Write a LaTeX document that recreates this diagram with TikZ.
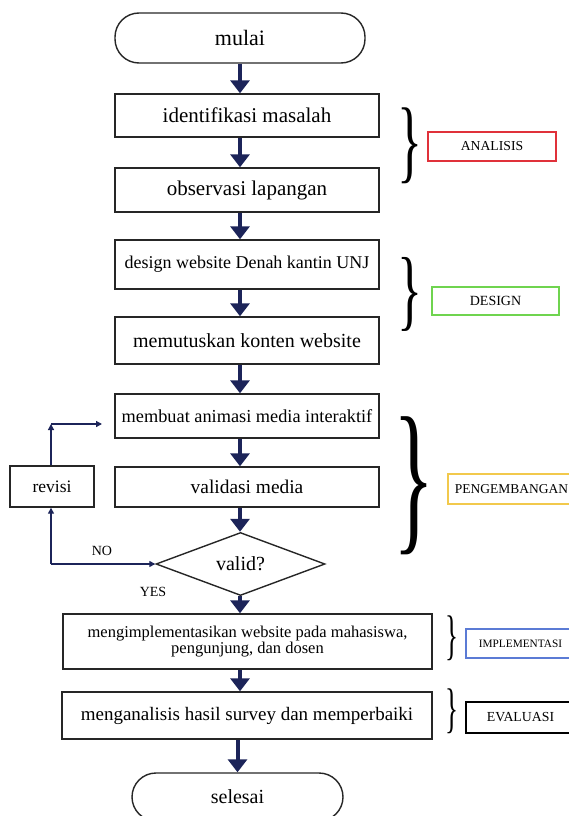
\documentclass[tikz,border=0pt]{standalone}
\usepackage{fontspec}
\setmainfont{Liberation Serif}
\usepackage{graphicx}
\usetikzlibrary{arrows.meta,shapes.geometric}
\definecolor{navy}{HTML}{1C2459}
\definecolor{redb}{HTML}{E0313A}
\definecolor{greenb}{HTML}{6FD44F}
\definecolor{yellowb}{HTML}{F2C94C}
\definecolor{blueb}{HTML}{5B7BD5}
\newcommand{\fsz}[1]{\fontsize{#1}{#1}\selectfont}
\begin{document}
\begin{tikzpicture}[x=1pt,y=-1pt,
  box/.style={draw=black!85, line width=1.4pt, inner sep=0pt, align=center},
  term/.style={box, rounded corners=24pt},
  mainarr/.style={navy, line width=4pt, -{Triangle[width=19pt,length=13pt]}},
  thinarr/.style={navy, line width=1.3pt, -{Triangle[width=6pt,length=6pt]}},
  tag/.style={draw, line width=1.5pt, inner sep=0pt},
  brc/.style={inner sep=0pt},
  lbl/.style={inner sep=0pt, font=\fsz{14}}
]
\useasboundingbox (0,0) rectangle (569,816);

% main flow
\node[term, minimum width=250pt, minimum height=50pt, font=\fsz{22}] (start) at (240,38) {mulai};
\node[box, minimum width=264pt, minimum height=43pt, font=\fsz{21}] (b1) at (247,115.5) {identifikasi masalah};
\node[box, minimum width=264pt, minimum height=44pt, font=\fsz{21}] (b2) at (247,190) {observasi lapangan};
\node[box, minimum width=264pt, minimum height=49pt, font=\fsz{18}] (b3) at (247,264.5) {design website Denah kantin UNJ};
\node[box, minimum width=264pt, minimum height=47pt, font=\fsz{20}] (b4) at (247,340.5) {memutuskan konten website};
\node[box, minimum width=264pt, minimum height=44pt, font=\fsz{18.3}] (b5) at (247,416) {membuat animasi media interaktif};
\node[box, minimum width=264pt, minimum height=40pt, font=\fsz{19.4}] (b6) at (247,487) {validasi media};
\node[box, minimum width=84pt, minimum height=41pt, font=\fsz{17.5}] (rev) at (52,486.5) {revisi};
\node[box, diamond, minimum width=169pt, minimum height=60pt, font=\fsz{20}] (dia) at (240.5,564) {valid?};
\node[box, minimum width=369pt, minimum height=55pt, font=\fsz{16.5}] (b7) at (247.5,641.5) {mengimplementasikan website pada mahasiswa,\\pengunjung, dan dosen};
\node[box, minimum width=370pt, minimum height=47pt, font=\fsz{19}] (b8) at (247,715.5) {menganalisis hasil survey dan memperbaiki};
\node[term, minimum width=211pt, minimum height=48pt, font=\fsz{20}] (end) at (237.5,797) {selesai};

% main arrows
\coordinate (col) at (240,0);
\draw[mainarr] (start.south) -- (start.south |- b1.north);
\draw[mainarr] (b1.south -| col) -- (b2.north -| col);
\draw[mainarr] (b2.south -| col) -- (b3.north -| col);
\draw[mainarr] (b3.south -| col) -- (b4.north -| col);
\draw[mainarr] (b4.south -| col) -- (b5.north -| col);
\draw[mainarr] (b5.south -| col) -- (b6.north -| col);
\draw[mainarr] (b6.south -| col) -- (dia.north -| col);
\draw[mainarr] (dia.south -| col) -- (b7.north -| col);
\draw[mainarr] (b7.south -| col) -- (b8.north -| col);
\draw[mainarr] (b8.south -| end) -- (end.north);

% revision loop
\coordinate (cNO) at (51,564);
\coordinate (cTop) at (51,424);
\coordinate (cTip) at (102,424);
\draw[thinarr] (cNO) -- (cNO |- rev.south);
\draw[thinarr] (cNO) -- (dia.west);
\draw[thinarr] (cNO |- rev.north) -- (cTop);
\draw[thinarr] (cTop) -- (cTip);
\node[lbl] (no) at (102,551) {NO};
\node[lbl] (yes) at (153,592) {YES};

% braces
\node[brc] (brA) at (409.5,146) {\resizebox*{25pt}{76pt}{\}}};
\node[brc] (brD) at (409.5,294) {\resizebox*{25pt}{74pt}{\}}};
\node[brc] (brP) at (414.5,486) {\resizebox*{41pt}{138pt}{\}}};
\node[brc] (brI) at (451.5,638.5) {\resizebox*{13pt}{45pt}{\}}};
\node[brc] (brE) at (451.5,711.5) {\resizebox*{13pt}{45pt}{\}}};

% phase tags
\node[tag, draw=redb, minimum width=128pt, minimum height=29pt, font=\fsz{13.7}] (tA) at (492,146.5) {ANALISIS};
\node[tag, draw=greenb, minimum width=127pt, minimum height=28pt, font=\fsz{14}] (tD) at (495.5,301) {DESIGN};
\node[tag, draw=yellowb, minimum width=127pt, minimum height=30pt, font=\fsz{13.5}] (tP) at (511.5,489) {PENGEMBANGAN};
\node[tag, draw=blueb, minimum width=109pt, minimum height=29pt, font=\fsz{11.3}] (tI) at (520.5,643.5) {IMPLEMENTASI};
\node[tag, draw=black, minimum width=109pt, minimum height=31pt, font=\fsz{13.8}] (tE) at (520.5,717.5) {EVALUASI};
\end{tikzpicture}
\end{document}
